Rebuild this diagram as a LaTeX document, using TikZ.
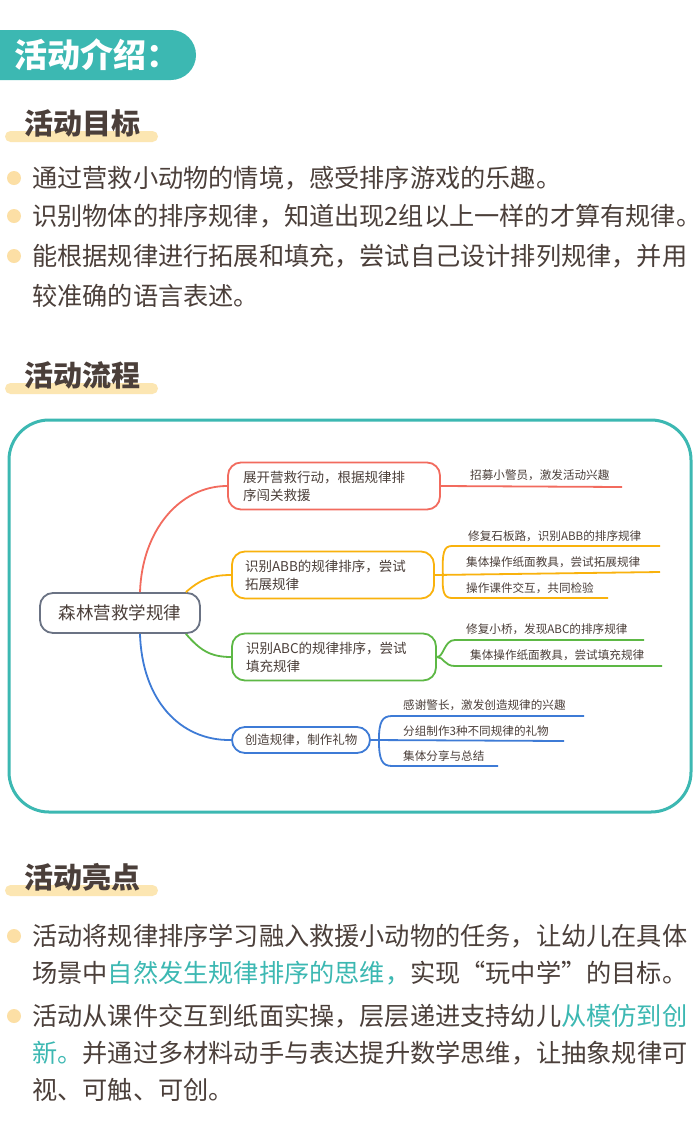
\documentclass[tikz,border=0pt]{standalone}
\usepackage{fontspec}
\setmainfont{Noto Sans CJK SC}
\definecolor{teal1}{HTML}{3CB8B2}
\definecolor{barY}{HTML}{FCE6B2}
\definecolor{dotY}{HTML}{FCDFA5}
\definecolor{txt}{HTML}{4B3F3A}
\definecolor{mred}{HTML}{F26B5E}
\definecolor{morange}{HTML}{F9B20D}
\definecolor{mgreen}{HTML}{5DB845}
\definecolor{mblue}{HTML}{3E7BD6}
\definecolor{mgray}{HTML}{6B7384}
\newcommand{\bodysize}{\fontsize{25.2}{30}\selectfont}
\newcommand{\hl}[1]{\textcolor{teal1}{#1}}
\begin{document}
\begin{tikzpicture}[x=1pt,y=-1pt,
    heading/.style={anchor=base west, inner sep=0pt, text=txt, font=\fontsize{29}{32}\selectfont\bfseries},
    body/.style={anchor=base west, inner sep=0pt, text=txt, font=\bodysize},
    dot/.style={circle, fill=dotY, minimum size=14pt, inner sep=0pt},
    bar/.style={fill=barY, rounded corners=5.5pt},
    branch/.style={rectangle, rounded corners=13pt, line width=1.8pt, fill=white,
      text=txt, font=\fontsize{13.5}{18}\selectfont, align=left, inner sep=0pt},
    leaf/.style={anchor=base west, inner sep=0pt, text=txt, font=\fontsize{11.6}{14}\selectfont},
    link/.style={line width=1.8pt}]

    \useasboundingbox (0,0) rectangle (700,1133);
    \fill[white] (0,0) rectangle (700,1133);

    % title banner
    \begin{scope}
      \clip (0,0) rectangle (700,1133);
      \fill[teal1, rounded corners=25pt] (-40,30) rectangle (196,80);
    \end{scope}
    \node[anchor=base west, inner sep=0pt, text=white,
      font=\fontsize{33}{36}\selectfont\bfseries] (title) at (14,67) {活动介绍：};

    % goals
    \fill[bar] (5,131) rectangle (158,142);
    \node[heading] (goal) at (24,134) {活动目标};
    \foreach \y in {178,216,256} \node[dot] at (14,\y) {};
    \node[body] (g1) at (32,187) {通过营救小动物的情境，感受排序游戏的乐趣。};
    \node[body] (g2) at (32,225) {识别物体的排序规律，知道出现2组以上一样的才算有规律。};
    \node[body] (g3) at (32,265) {能根据规律进行拓展和填充，尝试自己设计排列规律，并用};
    \node[body] (g4) at (32,305) {较准确的语言表述。};

    % flow
    \fill[bar] (5,383) rectangle (158,394);
    \node[heading] (flow) at (24,386) {活动流程};
    \draw[teal1, line width=3pt, rounded corners=40pt] (9,420) rectangle (691,812);

    \node[branch, draw=mgray, minimum width=160pt, minimum height=40pt,
      font=\fontsize{17.5}{20}\selectfont] (root) at (120,613) {森林营救学规律};

    \node[branch, draw=mred, minimum width=212pt, minimum height=47pt,
      text width=182pt] (red) at (334,486) {展开营救行动，根据规律排\\序闯关救援};
    \node[branch, draw=morange, minimum width=202pt, minimum height=47pt,
      text width=176pt] (orange) at (333,575) {识别ABB的规律排序，尝试\\拓展规律};
    \node[branch, draw=mgreen, minimum width=204pt, minimum height=47pt,
      text width=176pt] (green) at (334,657) {识别ABC的规律排序，尝试\\填充规律};
    \node[branch, draw=mblue, minimum width=138pt, minimum height=26pt,
      font=\fontsize{12.5}{15}\selectfont] (blue) at (301,740) {创造规律，制作礼物};

    \draw[link, mred] (root.north) ++(20,0) coordinate (rr)
      (rr) .. controls (142,530) and (180,486) .. (red.west);
    \draw[link, morange] (root.north east) ++(-15,0) coordinate (ro)
      (ro) .. controls (200,580) and (210,575) .. (orange.west);
    \draw[link, mgreen] (root.south east) ++(-15,0) coordinate (rg)
      (rg) .. controls (200,650) and (210,657) .. (green.west);
    \draw[link, mblue] (root.south) ++(20,0) coordinate (rb)
      (rb) .. controls (142,700) and (180,741) .. (blue.west);

    % leaves
    \node[leaf] (l1) at (470,479) {招募小警员，激发活动兴趣};
    \coordinate (l1e) at (622,487);
    \draw[link, mred] (red.east) -- (l1e);

    \node[leaf] (l2) at (468,540) {修复石板路，识别ABB的排序规律};
    \node[leaf] (l3) at (466,566) {集体操作纸面教具，尝试拓展规律};
    \node[leaf] (l4) at (466,592) {操作课件交互，共同检验};
    \coordinate (l2s) at (452,546); \coordinate (l2e) at (660,546);
    \coordinate (l3e) at (660,572);
    \coordinate (l4s) at (452,598); \coordinate (l4e) at (608,598);
    \draw[link, morange] (orange.east) -- (l3e);
    \draw[link, morange] (orange.east) ++(8,0) coordinate (ob)
      (ob) .. controls (442,552) and (444,546) .. (l2s) -- (l2e);
    \draw[link, morange] (ob) .. controls (442,592) and (444,598) .. (l4s) -- (l4e);

    \node[leaf] (l5) at (466,633) {修复小桥，发现ABC的排序规律};
    \node[leaf] (l6) at (470,659) {集体操作纸面教具，尝试填充规律};
    \coordinate (l5s) at (455,640); \coordinate (l5e) at (644,640);
    \coordinate (l6s) at (455,666); \coordinate (l6e) at (662,666);
    \draw[link, mgreen] (green.east) .. controls (444,657) and (444,640) .. (l5s) -- (l5e);
    \draw[link, mgreen] (green.east) .. controls (444,657) and (444,666) .. (l6s) -- (l6e);

    \node[leaf] (l7) at (403,709) {感谢警长，激发创造规律的兴趣};
    \node[leaf] (l8) at (403,735) {分组制作3种不同规律的礼物};
    \node[leaf] (l9) at (403,760) {集体分享与总结};
    \coordinate (l7s) at (392,716); \coordinate (l7e) at (584,716);
    \coordinate (l8e) at (564,741);
    \coordinate (l9s) at (392,766); \coordinate (l9e) at (498,766);
    \draw[link, mblue] (blue.east) -- (l8e);
    \draw[link, mblue] (blue.east) ++(8,0) coordinate (bb)
      (bb) .. controls (379,722) and (382,716) .. (l7s) -- (l7e);
    \draw[link, mblue] (bb) .. controls (379,760) and (382,766) .. (l9s) -- (l9e);

    % highlights
    \fill[bar] (5,885) rectangle (158,896);
    \node[heading] (point) at (24,888) {活动亮点};
    \foreach \y in {936,1016} \node[dot] at (14,\y) {};
    \node[body] (p1) at (32,945) {活动将规律排序学习融入救援小动物的任务，让幼儿在具体};
    \node[body] (p2) at (32,982) {场景中\hl{自然发生规律排序的思维，}实现“玩中学”的目标。};
    \node[body] (p3) at (32,1025) {活动从课件交互到纸面实操，层层递进支持幼儿\hl{从模仿到创}};
    \node[body] (p4) at (32,1062) {\hl{新。}并通过多材料动手与表达提升数学思维，让抽象规律可};
    \node[body] (p5) at (32,1099) {视、可触、可创。};
\end{tikzpicture}
\end{document}
